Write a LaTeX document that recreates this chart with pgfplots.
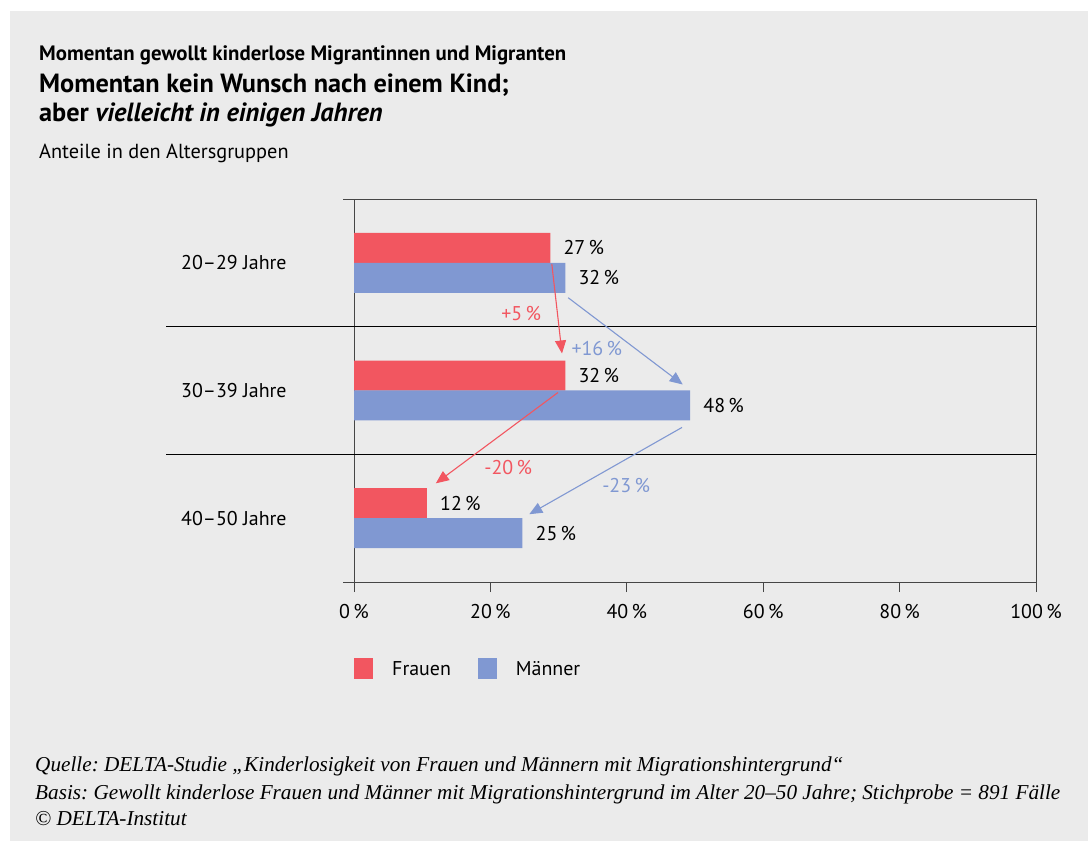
\documentclass[border=0pt]{standalone}
\usepackage{fontspec}
\setmainfont{PT Sans}
\newfontfamily\notefont{Liberation Serif}
\usepackage{pgfplots}
\pgfplotsset{compat=1.18}
\usetikzlibrary{arrows.meta}
\definecolor{bg}{RGB}{235,235,235}
\definecolor{frau}{RGB}{242,86,96}
\definecolor{mann}{RGB}{128,152,210}
\definecolor{axl}{RGB}{70,70,70}
\newcommand\lbl{\fontsize{20}{24}\selectfont}

\begin{document}
\frenchspacing
\begin{tikzpicture}[x=1bp,y=-1bp]
\path[use as bounding box] (0,0) rectangle (1088,841);
\fill[white] (0,0) rectangle (1088,841);
\fill[bg] (10,11) rectangle (1088,841);
% titles
\node[anchor=base west,inner sep=0pt,font=\fontsize{20.9}{24}\selectfont\bfseries] at (39,60) {Momentan gewollt kinderlose Migrantinnen und Migranten};
\node[anchor=base west,inner sep=0pt,font=\fontsize{26.4}{30}\selectfont\bfseries] at (39,92) {Momentan kein Wunsch nach einem Kind;};
\node[anchor=base west,inner sep=0pt,font=\fontsize{26.4}{30}\selectfont\bfseries] at (39,121) {aber \textit{vielleicht in einigen Jahren}};
\node[anchor=base west,inner sep=0pt,font=\fontsize{20.4}{24}\selectfont] at (39,158) {Anteile in den Altersgruppen};

\begin{axis}[
  at={(354bp,-582bp)}, anchor=south west,
  width=682bp, height=383bp, scale only axis,
  xmin=0, xmax=100, ymin=-0.5, ymax=2.5, y dir=reverse,
  xbar, bar width=30bp, clip=false,
  axis line style={axl, line width=1bp},
  tick align=outside, xtick pos=bottom, ytick pos=left,
  xtick={0,20,40,60,80,100},
  xticklabels={0\,\%,20\,\%,40\,\%,60\,\%,80\,\%,100\,\%},
  xtick style={axl, line width=1bp}, major tick length=10bp,
  ytick={0,1,2},
  yticklabels={20--29 Jahre,30--39 Jahre,40--50 Jahre},
  ytick style={draw=none},
  yticklabel style={anchor=west, inner sep=0pt, xshift=-163bp},
  xticklabel style={inner sep=0pt, yshift=-12bp},
  ticklabel style={font=\lbl},
  nodes near coords={\pgfplotspointmeta\,\%},
  point meta=explicit symbolic,
  nodes near coords style={anchor=west, inner sep=0pt, xshift=13bp, black, font=\lbl},
  legend columns=2,
  legend style={at={(0,-0.227)}, anchor=west, draw=none, fill=none, inner sep=0pt,
    font=\lbl,
    nodes={inner sep=0pt, anchor=west},
    /tikz/every odd column/.append style={column sep=19bp},
    /tikz/every even column/.append style={column sep=27bp}},
]
\addplot[fill=frau, draw=none, bar shift=0pt,
  legend image code/.code={\fill[frau] (0bp,-10.5bp) rectangle (19bp,10.5bp);}]
  coordinates {(28.8,-0.117) [27] (31.0,0.883) [32] (10.7,1.883) [12]};
\addplot[fill=mann, draw=none, bar shift=0pt,
  legend image code/.code={\fill[mann] (0bp,-10.5bp) rectangle (19bp,10.5bp);}]
  coordinates {(31.0,0.117) [32] (49.3,1.117) [48] (24.7,2.117) [25]};
\legend{Frauen, Männer}

% group separators and box ticks
\draw[black, line width=1bp] ([xshift=-188bp]axis cs:0,0.5) -- (axis cs:100,0.5);
\draw[black, line width=1bp] ([xshift=-188bp]axis cs:0,1.5) -- (axis cs:100,1.5);
\draw[axl, line width=1bp] ([xshift=-11bp]axis cs:0,-0.5) -- (axis cs:0,-0.5);
\draw[axl, line width=1bp] ([xshift=-11bp]axis cs:0,2.5) -- (axis cs:0,2.5);

% change arrows
\draw[frau, line width=1.1bp, -{Triangle[length=13bp,width=11bp]}] (axis cs:29.0,0.008) -- (axis cs:30.5,0.71);
\draw[mann, line width=1.1bp, -{Triangle[length=13bp,width=11bp]}] (axis cs:31.4,0.273) -- (axis cs:48.2,0.953);
\draw[frau, line width=1.1bp, -{Triangle[length=13bp,width=11bp]}] (axis cs:29.9,1.016) -- (axis cs:12.0,1.727);
\draw[mann, line width=1.1bp, -{Triangle[length=13bp,width=11bp]}] (axis cs:48.1,1.289) -- (axis cs:25.7,1.969);
\node[frau, font=\lbl] at (axis cs:24.5,0.398) {+5\,\%};
\node[mann, font=\lbl] at (axis cs:35.6,0.672) {+16\,\%};
\node[frau, font=\lbl] at (axis cs:22.6,1.60) {-20\,\%};
\node[mann, font=\lbl] at (axis cs:39.9,1.742) {-23\,\%};
\end{axis}

% source notes
\node[anchor=base west,inner sep=0pt,font=\notefont\itshape\fontsize{21.3}{24}\selectfont] at (35,771) {Quelle: DELTA-Studie „Kinderlosigkeit von Frauen und Männern mit Migrationshintergrund“};
\node[anchor=base west,inner sep=0pt,font=\notefont\itshape\fontsize{21.3}{24}\selectfont] at (35,799) {Basis: Gewollt kinderlose Frauen und Männer mit Migrationshintergrund im Alter 20–50 Jahre; Stichprobe = 891 Fälle};
\node[anchor=base west,inner sep=0pt,font=\notefont\itshape\fontsize{21.3}{24}\selectfont] at (35,825) {© DELTA-Institut};
\end{tikzpicture}
\end{document}
